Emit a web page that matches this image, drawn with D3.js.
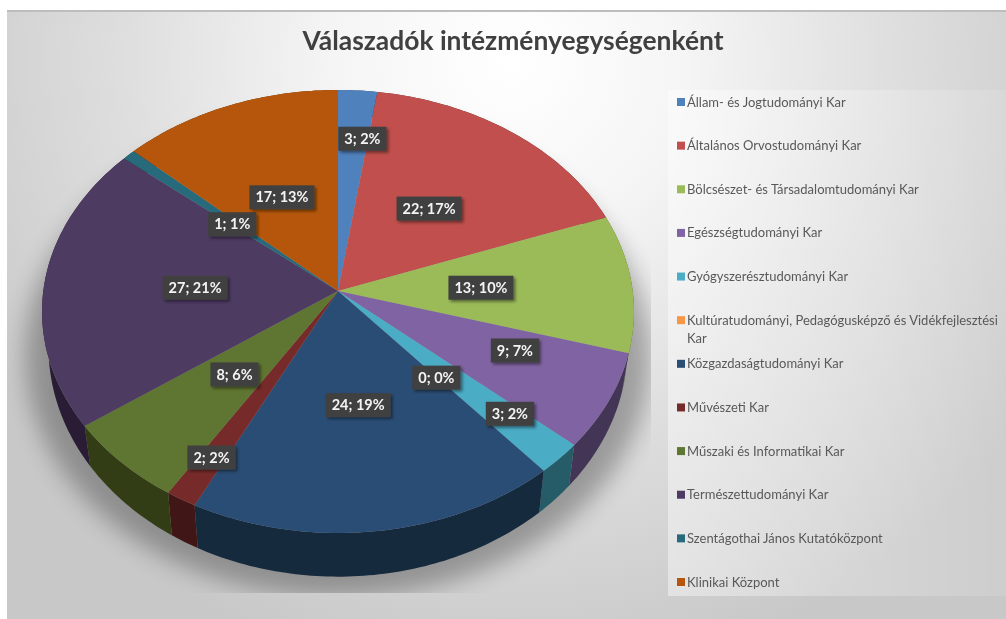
<!DOCTYPE html>
<html>
<head>
<meta charset="utf-8">
<script src="https://cdnjs.cloudflare.com/ajax/libs/d3/7.8.5/d3.min.js"></script>
<style>
  html, body { margin: 0; padding: 0; background: #fff; overflow: hidden; }
  svg { display: block; font-family: Lato, "Open Sans", sans-serif; }
</style>
</head>
<body>
<div id="chart"></div>
<script>
// Chart data
var titleText = "Válaszadók intézményegységenként";
var faculties = [
  "Állam- és Jogtudományi Kar",
  "Általános Orvostudományi Kar",
  "Bölcsészet- és Társadalomtudományi Kar",
  "Egészségtudományi Kar",
  "Gyógyszerésztudományi Kar",
  "Kultúratudományi, Pedagógusképző és Vidékfejlesztési Kar",
  "Közgazdaságtudományi Kar",
  "Művészeti Kar",
  "Műszaki és Informatikai Kar",
  "Természettudományi Kar",
  "Szentágothai János Kutatóközpont",
  "Klinikai Központ"
];
var counts = [3, 22, 13, 9, 3, 0, 24, 2, 8, 27, 1, 17];
var percents = [2, 17, 10, 7, 2, 0, 19, 2, 6, 21, 1, 13];
var colors = ["#4F81BD", "#C0504D", "#9BBB59", "#8064A2", "#4BACC6", "#F79646",
  "#2C4D75", "#772C2A", "#5F7530", "#4D3B62", "#276A7C", "#B65708"];

// Hand placed labels: pixel shift from the default spot inside each slice
var labelShift = [[11, -16], [-26, 25], [-51, 2], [1, -12], [29, 15], [-34, -29],
  [-5, -39], [-26, 33], [36, -27], [51, 2], [35, 25], [18, 32]];

var svgWidth = 1006;
var svgHeight = 619;

// Perspective pie: centre of the slices, radii and tilt strength
var pieX = 338;
var pieY = 291;
var radiusX = 294.7;
var radiusY = 219.6;
var tilt = 0.0925;

var svg = d3.select("#chart")
  .append("svg")
  .attr("width", svgWidth)
  .attr("height", svgHeight);

var defs = svg.append("defs");

// Background gradient
var bgGrad = defs.append("radialGradient")
  .attr("id", "bgGrad")
  .attr("gradientUnits", "userSpaceOnUse")
  .attr("cx", 510).attr("cy", 60).attr("r", 625);
bgGrad.append("stop").attr("offset", "0%").attr("stop-color", "#ffffff");
bgGrad.append("stop").attr("offset", "28%").attr("stop-color", "#f5f5f5");
bgGrad.append("stop").attr("offset", "62%").attr("stop-color", "#dedede");
bgGrad.append("stop").attr("offset", "100%").attr("stop-color", "#c8c8c8");

var legendGrad = defs.append("linearGradient").attr("id", "legendGrad");
legendGrad.append("stop").attr("offset", "0%").attr("stop-color", "#fff").attr("stop-opacity", 0.42);
legendGrad.append("stop").attr("offset", "100%").attr("stop-color", "#fff").attr("stop-opacity", 0.1);

defs.append("filter").attr("id", "shadowBlur")
  .attr("x", "-20%").attr("y", "-20%").attr("width", "140%").attr("height", "140%")
  .append("feGaussianBlur").attr("stdDeviation", 12);

defs.append("filter").attr("id", "soft")
  .attr("x", "0").attr("y", "0").attr("width", "100%").attr("height", "100%")
  .append("feGaussianBlur").attr("stdDeviation", 0.45);

var labelShadow = defs.append("filter").attr("id", "labelShadow")
  .attr("x", "-20%").attr("y", "-20%").attr("width", "150%").attr("height", "160%");
labelShadow.append("feDropShadow")
  .attr("dx", 2).attr("dy", 2).attr("stdDeviation", 1.5)
  .attr("flood-color", "#000").attr("flood-opacity", 0.45);

defs.append("clipPath").attr("id", "plotClip")
  .append("rect")
  .attr("x", 7).attr("y", 10).attr("width", 644).attr("height", 583);

var root = svg.append("g").attr("filter", "url(#soft)");

root.append("rect")
  .attr("x", 7).attr("y", 10)
  .attr("width", svgWidth - 7).attr("height", svgHeight - 10)
  .attr("fill", "url(#bgGrad)");
root.append("rect")
  .attr("x", 7).attr("y", 10)
  .attr("width", svgWidth - 7).attr("height", 2)
  .attr("fill", "#bdbdbd");

// Angle on the pie -> point on screen. ring 0 is the top face, ring 1 the bottom rim
function project(angle, r, ring) {
  var u = Math.sin(angle) * r;
  var v = -Math.cos(angle) * r;
  var k = 1 / (1 - tilt * v);
  var x = radiusX * u * k;
  var y = radiusY * v * k;
  if (ring) {
    x = x * 0.978;
    y = y * 0.978 + 35 + 14 * v;
  }
  return [pieX + x, pieY + y];
}

function sampleAngles(a0, a1) {
  var n = Math.max(2, Math.ceil((a1 - a0) * 60));
  return d3.range(n + 1).map(function(i) { return a0 + (a1 - a0) * i / n; });
}

var line = d3.line();

var pie = d3.pie().sort(null).value(function(d) { return d; });
var slices = pie(counts);

// Shadow under the pie
var outline = sampleAngles(0, 2 * Math.PI).map(function(a) {
  var p = project(a, 1, 1);
  return [pieX + (p[0] - pieX) * 1.08, pieY + (p[1] - pieY) * 1.05 + 6];
});
root.append("g")
  .attr("clip-path", "url(#plotClip)")
  .append("path")
  .attr("d", line(outline) + "Z")
  .attr("fill", "#000")
  .attr("opacity", 0.3)
  .attr("filter", "url(#shadowBlur)");

// Legend panel
root.append("rect")
  .attr("x", 668).attr("y", 90)
  .attr("width", svgWidth - 668).attr("height", 506)
  .attr("fill", "url(#legendGrad)");

// Side walls
root.append("g").selectAll("path")
  .data(slices)
  .join("path")
  .attr("d", function(d) {
    var angles = sampleAngles(d.startAngle, d.endAngle);
    var top = angles.map(function(a) { return project(a, 1, 0); });
    var bottom = angles.map(function(a) { return project(a, 1, 1); }).reverse();
    return line(top.concat(bottom)) + "Z";
  })
  .attr("fill", function(d, i) { return d3.rgb(colors[i]).darker(1.8); });

// Top faces
root.append("g").selectAll("path")
  .data(slices)
  .join("path")
  .attr("d", function(d) {
    var rim = sampleAngles(d.startAngle, d.endAngle).map(function(a) { return project(a, 1, 0); });
    return line([[pieX, pieY]].concat(rim)) + "Z";
  })
  .attr("fill", function(d, i) { return colors[i]; });

// Data labels
var labels = root.append("g").selectAll("g")
  .data(slices)
  .join("g")
  .attr("transform", function(d, i) {
    var p = project((d.startAngle + d.endAngle) / 2, 0.66, 0);
    return "translate(" + (p[0] + labelShift[i][0]) + "," + (p[1] + labelShift[i][1]) + ")";
  });

var labelRects = labels.append("rect")
  .attr("fill", "#404040")
  .attr("filter", "url(#labelShadow)");

var labelTexts = labels.append("text")
  .attr("text-anchor", "middle")
  .attr("dy", "0.35em")
  .attr("fill", "#f4f4f4")
  .attr("font-size", 14.5)
  .attr("font-weight", 700)
  .text(function(d, i) { return counts[i] + "; " + percents[i] + "%"; });

labelRects.each(function(d, i) {
  var w = labelTexts.nodes()[i].getComputedTextLength() + 12;
  d3.select(this)
    .attr("x", -w / 2).attr("y", -12)
    .attr("width", w).attr("height", 24);
});

// Title
root.append("text")
  .attr("x", 513)
  .attr("y", 50)
  .attr("text-anchor", "middle")
  .attr("fill", "#404040")
  .attr("font-size", 26.4)
  .attr("font-weight", 700)
  .text(titleText);

// Legend
var legendY = d3.scaleLinear().domain([0, faculties.length - 1]).range([102, 582]);

var legend = root.append("g").selectAll("g")
  .data(faculties)
  .join("g")
  .attr("transform", function(d, i) { return "translate(677," + legendY(i) + ")"; });

legend.append("rect")
  .attr("x", 0).attr("y", -4)
  .attr("width", 8).attr("height", 8)
  .attr("fill", function(d, i) { return colors[i]; });

legend.append("text")
  .attr("x", 10)
  .attr("dy", "0.35em")
  .attr("fill", "#595959")
  .attr("font-size", 13)
  .each(function(d) {
    // the long faculty name breaks before its last word
    var text = d3.select(this);
    if (d.length > 50) {
      var cut = d.lastIndexOf(" ");
      text.append("tspan").text(d.slice(0, cut));
      text.append("tspan").attr("x", 10).attr("dy", "1.4em").text(d.slice(cut + 1));
    } else {
      text.text(d);
    }
  });
</script>
</body>
</html>
